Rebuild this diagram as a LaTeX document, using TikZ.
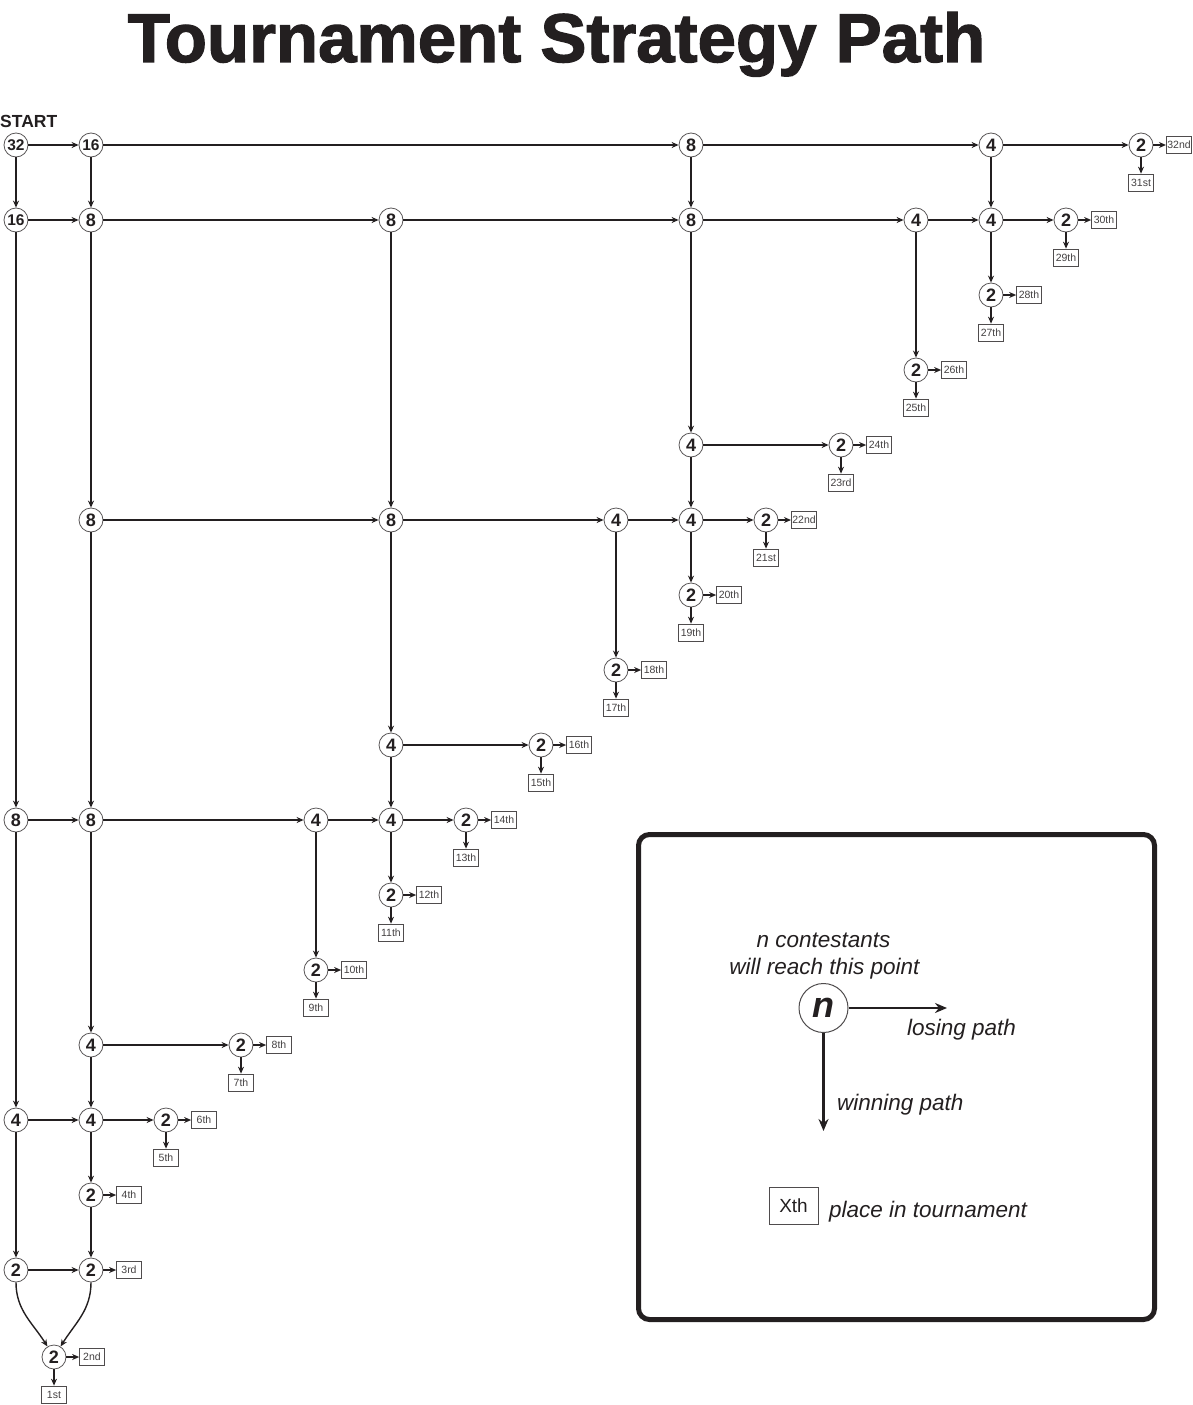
\documentclass[tikz,border=0pt]{standalone}
\usepackage{fontspec}
\setmainfont{Liberation Sans}
\newfontface\titlefont[RawFeature={embolden=1.8}]{Liberation Sans Bold}
\usetikzlibrary{arrows.meta}
\definecolor{ink}{RGB}{35,31,32}
\newcommand\twodigit[1]{{\fontsize{15.5}{15.5}\selectfont #1}}
\begin{document}
\begin{tikzpicture}[x=1pt,y=-1pt,
  cn/.style={circle, draw=ink!75, line width=0.8pt, fill=white, minimum size=24pt, inner sep=0pt,
    font=\bfseries\fontsize{18}{18}\selectfont, text=ink},
  pb/.style={draw=ink!80, line width=0.7pt, fill=white, minimum width=25pt, minimum height=17pt,
    inner sep=1pt, font=\fontsize{10.5}{10.5}\selectfont, text=ink!85},
  arr/.style={draw=ink, line width=1.4pt, -{Stealth[length=7pt,width=6pt]}},
  larr/.style={draw=ink, line width=2.2pt, -{Stealth[length=12pt,width=10pt]}},
  lt/.style={font=\itshape\fontsize{22.5}{22.5}\selectfont, text=ink, inner sep=0pt}]
\useasboundingbox (0,0) rectangle (1192,1405);

% title
\node[anchor=base, inner sep=0pt, text=ink, font=\titlefont\fontsize{69}{69}\selectfont] (title) at (556.5,62) {Tournament Strategy Path};
\node[anchor=base west, inner sep=0pt, text=ink, font=\bfseries\fontsize{17.5}{17.5}\selectfont] (start) at (0,127) {START};

% nodes
\foreach \c/\r/\l in {0/0/\twodigit{32}, 1/0/\twodigit{16}, 9/0/8, 13/0/4, 15/0/2,
  0/1/\twodigit{16}, 1/1/8, 5/1/8, 9/1/8, 12/1/4, 13/1/4, 14/1/2,
  13/2/2, 12/3/2, 9/4/4, 11/4/2,
  1/5/8, 5/5/8, 8/5/4, 9/5/4, 10/5/2,
  9/6/2, 8/7/2, 5/8/4, 7/8/2,
  0/9/8, 1/9/8, 4/9/4, 5/9/4, 6/9/2,
  5/10/2, 4/11/2, 1/12/4, 3/12/2,
  0/13/4, 1/13/4, 2/13/2, 1/14/2, 0/15/2, 1/15/2}
  \node[cn] (n\c-\r) at ({16+75*\c},{145+75*\r}) {\l};
\node[cn] (F) at (54,1357) {2};

% losing (horizontal) paths
\foreach \r/\a/\b in {0/0/1, 0/1/9, 0/9/13, 0/13/15,
  1/0/1, 1/1/5, 1/5/9, 1/9/12, 1/12/13, 1/13/14,
  4/9/11,
  5/1/5, 5/5/8, 5/8/9, 5/9/10,
  8/5/7,
  9/0/1, 9/1/4, 9/4/5, 9/5/6,
  12/1/3,
  13/0/1, 13/1/2,
  15/0/1}
  \draw[arr] (n\a-\r) -- (n\b-\r);

% winning (vertical) paths
\foreach \c/\a/\b in {0/0/1, 0/1/9, 0/9/13, 0/13/15,
  1/0/1, 1/1/5, 1/5/9, 1/9/12, 1/12/13, 1/13/14, 1/14/15,
  5/1/5, 5/5/8, 5/8/9, 5/9/10,
  9/0/1, 9/1/4, 9/4/5, 9/5/6,
  12/1/3, 13/0/1, 13/1/2, 8/5/7, 4/9/11}
  \draw[arr] (n\c-\a) -- (n\c-\b);

% final curves
\draw[arr] (n0-15) to[out=-90,in=122] (F);
\draw[arr] (n1-15) to[out=-90,in=58] (F);

% place boxes
\foreach \c/\r/\rt/\bt in {15/0/32nd/31st, 14/1/30th/29th, 13/2/28th/27th, 12/3/26th/25th,
  11/4/24th/23rd, 10/5/22nd/21st, 9/6/20th/19th, 8/7/18th/17th, 7/8/16th/15th,
  6/9/14th/13th, 5/10/12th/11th, 4/11/10th/9th, 3/12/8th/7th, 2/13/6th/5th}
{
  \node[pb] (r\c-\r) at ([xshift=38pt]n\c-\r) {\rt};
  \node[pb] (b\c-\r) at ([yshift=-37.5pt]n\c-\r) {\bt};
  \draw[arr] (n\c-\r) -- (r\c-\r);
  \draw[arr] (n\c-\r) -- (b\c-\r);
}
\foreach \c/\r/\rt in {1/14/4th, 1/15/3rd}
{
  \node[pb] (r\c-\r) at ([xshift=38pt]n\c-\r) {\rt};
  \draw[arr] (n\c-\r) -- (r\c-\r);
}
\node[pb] (rF) at ([xshift=38pt]F) {2nd};
\node[pb] (bF) at ([yshift=-37.5pt]F) {1st};
\draw[arr] (F) -- (rF);
\draw[arr] (F) -- (bF);

% legend
\draw[ink, line width=5pt, rounded corners=11pt] (638.5,834.5) rectangle (1154.5,1319.5);
\node[lt, anchor=base] (t1) at (823.5,947) {n contestants};
\node[lt, anchor=base] (t2) at (824.5,974) {will reach this point};
\node[circle, draw=ink!80, line width=1pt, fill=white, minimum size=49pt, inner sep=0pt, text=ink,
  font=\bfseries\itshape\fontsize{36}{36}\selectfont] (ln) at (823.5,1008) {n};
\coordinate (lose) at (947,1008);
\coordinate (win) at (823.5,1131);
\draw[larr] (ln) -- (lose);
\draw[larr] (ln) -- (win);
\node[lt, anchor=base west] (t3) at (907,1035) {losing path};
\node[lt, anchor=base west] (t4) at (837,1110) {winning path};
\node[draw=ink!80, line width=0.8pt, minimum width=49pt, minimum height=37pt, inner sep=1pt, text=ink,
  font=\fontsize{19}{19}\selectfont] (xb) at (793.5,1205.5) {Xth};
\node[lt, anchor=base west] (t5) at (829,1217) {place in tournament};
\end{tikzpicture}
\end{document}
